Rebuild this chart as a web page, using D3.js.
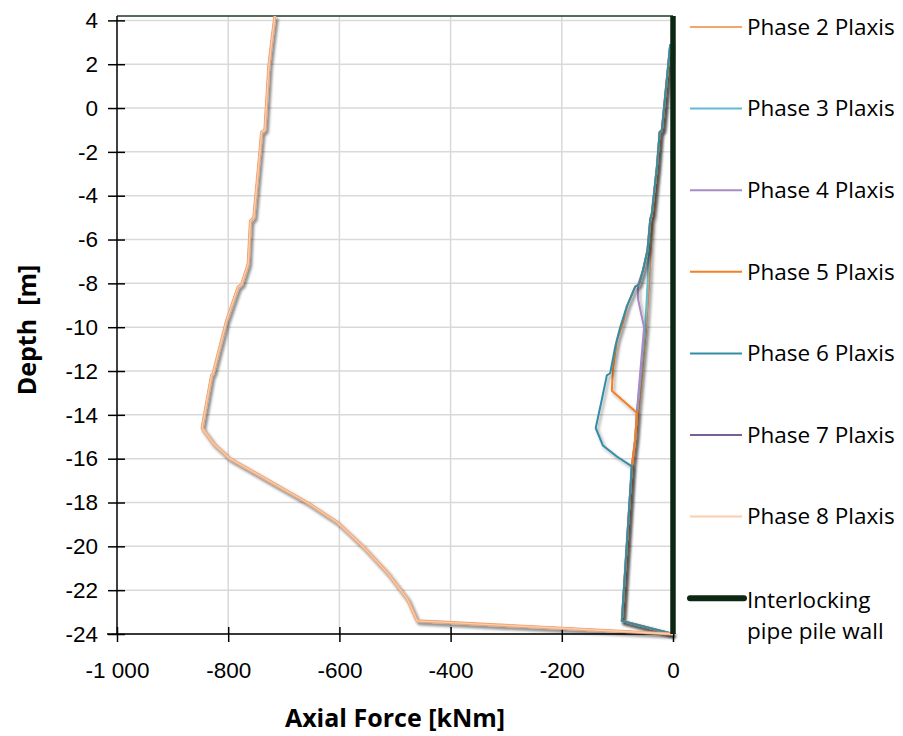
<!DOCTYPE html>
<html>
<head>
<meta charset="utf-8">
<script src="https://cdn.jsdelivr.net/npm/d3@7"></script>
<style>
  body { margin: 0; background: #fff; }
  svg { font-family: "Open Sans", sans-serif; }
  .axis text { font-size: 22.5px; fill: #000; }
  .axis path { display: none; }
  .axis line { stroke: #000; stroke-width: 1.5; }
  .axis-label { font-size: 25px; font-weight: bold; white-space: pre; }
  .legend text { font-size: 22.5px; }
</style>
</head>
<body>
<div id="chart"></div>
<script>
// depth ticks [m] and force ticks [kN]
const depthTicks = [4, 2, 0, -2, -4, -6, -8, -10, -12, -14, -16, -18, -20, -22, -24];
const forceTicks = [-1000, -800, -600, -400, -200, 0];

// Phase 2 Plaxis
const phase2Depth = [2.9, -1.0, -1.1, -5.0, -5.1, -8.1, -10.0, -13.9, -16.35, -23.4, -24.0];
const phase2Force = [-3, -18, -22, -35, -37, -43, -48, -62, -72, -90, 0];

// Phase 3 Plaxis
const phase3Depth = [2.9, -1.0, -1.1, -2.7, -4.8, -5.1, -8.15, -10.0, -13.9, -15.1, -16.35, -23.4, -24.0];
const phase3Force = [-5, -20, -24, -29, -38, -41, -46, -50, -65, -68, -74, -92, 0];

// Phase 4 Plaxis
const phase4Depth = [2.9, -1.0, -1.1, -2.7, -4.8, -5.1, -6.5, -7.4, -8.05, -8.7, -9.3, -10.0, -13.9, -15.1, -16.35, -23.4, -24.0];
const phase4Force = [-5, -20, -24, -29, -38, -41, -46, -54, -63, -63, -58, -52, -65, -68, -74, -92, 0];

// Phase 5 Plaxis
const phase5Depth = [2.9, -1.0, -1.1, -2.7, -4.8, -5.1, -6.5, -7.4, -8.05, -8.15, -9.05, -9.7, -10.6, -11.9, -12.9, -13.9, -15.1, -16.35, -23.4, -24.0];
const phase5Force = [-5, -20, -24, -29, -38, -41, -46, -54, -61, -68, -83, -89, -101, -108, -110, -65, -68, -74, -92, 0];

// Phase 6 Plaxis
const phase6Depth = [2.9, -1.0, -1.1, -2.7, -4.8, -5.1, -6.5, -7.4, -8.05, -8.15, -9.05, -10.0, -10.9, -12.1, -12.2, -13.3, -14.6, -15.4, -15.9, -16.35, -23.4, -24.0];
const phase6Force = [-5, -20, -24, -29, -38, -41, -46, -54, -61, -68, -83, -95, -104, -113, -119, -128, -139, -126, -101, -74, -92, 0];

// Phase 7 Plaxis (lies under phase 8)
const phase7Depth = [4.2, 3.0, 1.9, -1.0, -1.1, -2.0, -5.0, -5.15, -7.1, -8.05, -8.15, -9.7, -10.0, -12.1, -12.2, -14.6, -15.3, -16.0, -16.6, -17.3, -18.0, -18.9, -20.0, -21.2, -22.4, -23.2, -23.4, -24.0];
const phase7Force = [-716, -722, -727, -734, -740, -743, -754, -760, -764, -776, -782, -803, -806, -827, -830, -847, -827, -797, -755, -707, -658, -604, -558, -514, -478, -464, -460, 0];

// Phase 8 Plaxis
const phase8Depth = [4.2, 3.0, 1.9, -1.0, -1.1, -2.0, -5.0, -5.15, -7.1, -8.05, -8.15, -9.7, -10.0, -12.1, -12.2, -14.6, -15.3, -16.0, -16.6, -17.3, -18.0, -18.9, -20.0, -21.2, -22.4, -23.2, -23.4, -24.0];
const phase8Force = [-716, -722, -727, -734, -740, -743, -754, -760, -764, -776, -782, -803, -806, -827, -830, -847, -827, -797, -755, -707, -658, -604, -558, -514, -478, -464, -460, 0];

// Interlocking pipe pile wall
const wallDepth = [4.2, -24.0];
const wallForce = [0, 0];

const seriesNames = ["Phase 2 Plaxis", "Phase 3 Plaxis", "Phase 4 Plaxis", "Phase 5 Plaxis",
                     "Phase 6 Plaxis", "Phase 7 Plaxis", "Phase 8 Plaxis", "Interlocking pipe pile wall"];
const seriesColors = ["#F4A66A", "#60BCD4", "#A68BC5", "#F57F22", "#338DA6", "#7A5F97", "#F9CDAE", "#0E2713"];

let series = [
    [phase2Force, phase2Depth], [phase3Force, phase3Depth], [phase4Force, phase4Depth],
    [phase5Force, phase5Depth], [phase6Force, phase6Depth], [phase7Force, phase7Depth],
    [phase8Force, phase8Depth], [wallForce, wallDepth]
].map((s, i) => ({
    name: seriesNames[i],
    color: seriesColors[i],
    points: s[0].map((f, j) => ({force: f, depth: s[1][j]}))
}));

let width = 903, height = 736;
let svg = d3.select("#chart").append("svg")
    .attr("width", width)
    .attr("height", height);

// soft shadow like the spreadsheet lines
let defs = svg.append("defs");
defs.append("filter")
    .attr("id", "shadow")
    .attr("x", "-20%").attr("y", "-20%").attr("width", "140%").attr("height", "140%")
    .append("feDropShadow")
    .attr("dx", 2).attr("dy", 2.5)
    .attr("stdDeviation", 1.8)
    .attr("flood-color", "#000")
    .attr("flood-opacity", 0.38);

let xScale = d3.scaleLinear().domain([-1000, 0]).range([117, 673]);
let yScale = d3.scaleLinear().domain([-24, 4.2]).range([634, 16]);

let fmt = d3.formatLocale({decimal: ".", thousands: "\u00a0", grouping: [3], currency: ["", ""], minus: "-"}).format(",");

// Grid
let grid = svg.append("g").attr("class", "grid");
grid.selectAll(".hgrid")
    .data(depthTicks)
    .enter().append("line")
    .attr("x1", xScale(-1000)).attr("x2", xScale(0))
    .attr("y1", d => yScale(d)).attr("y2", d => yScale(d))
    .attr("stroke", "#D9D9D9").attr("stroke-width", 1.5);
grid.selectAll(".vgrid")
    .data(forceTicks.filter(d => d > -1000 && d < 0))
    .enter().append("line")
    .attr("x1", d => xScale(d)).attr("x2", d => xScale(d))
    .attr("y1", yScale(4.2)).attr("y2", yScale(-24))
    .attr("stroke", "#D9D9D9").attr("stroke-width", 1.5);

// top edge of plot area
svg.append("line")
    .attr("x1", xScale(-1000)).attr("x2", xScale(0))
    .attr("y1", yScale(4.2)).attr("y2", yScale(4.2))
    .attr("stroke", "#1F3A22").attr("stroke-width", 1.5);

// Axes
let yAxisGroup = svg.append("g")
    .attr("class", "axis")
    .attr("transform", "translate(" + xScale(-1000) + ",0)")
    .call(d3.axisLeft(yScale).tickValues(depthTicks).tickFormat(fmt).tickSize(9).tickPadding(10));
yAxisGroup.selectAll(".tick line").attr("x1", 8);
yAxisGroup.append("line")
    .attr("x1", 0).attr("x2", 0)
    .attr("y1", yScale(4.2)).attr("y2", yScale(-24))
    .attr("stroke", "#000").attr("stroke-width", 1.5);

let xAxisGroup = svg.append("g")
    .attr("class", "axis")
    .attr("transform", "translate(0," + yScale(-24) + ")")
    .call(d3.axisBottom(xScale).tickValues(forceTicks).tickFormat(fmt).tickSize(8).tickPadding(20));
xAxisGroup.selectAll(".tick line").attr("y1", -7);
xAxisGroup.append("line")
    .attr("x1", xScale(-1000) - 10).attr("x2", xScale(0))
    .attr("y1", 0).attr("y2", 0)
    .attr("stroke", "#000").attr("stroke-width", 1.5);

// Series
let line = d3.line()
    .x(d => xScale(d.force))
    .y(d => yScale(d.depth));

let lines = svg.append("g").attr("class", "series");
series.forEach((s, i) => {
    let isWall = i === 7;
    if (i === 6) {
        // darker rim seen around the phase 8 curve
        lines.append("path")
            .datum(s.points)
            .attr("d", line)
            .attr("fill", "none")
            .attr("stroke", "#F2A56E")
            .attr("stroke-width", 3)
            .attr("stroke-linejoin", "round")
            .attr("filter", "url(#shadow)");
    }
    lines.append("path")
        .datum(s.points)
        .attr("d", line)
        .attr("fill", "none")
        .attr("stroke", s.color)
        .attr("stroke-width", isWall ? 5.5 : (i === 6 ? 1.3 : 2))
        .attr("stroke-linejoin", "round")
        .attr("filter", isWall || i === 6 ? null : "url(#shadow)");
});

// Legend
let legend = svg.append("g").attr("class", "legend");
series.forEach((s, i) => {
    let y = 27 + i * 81.6;
    let isWall = i === 7;
    legend.append("line")
        .attr("x1", 690).attr("x2", isWall ? 744 : 742)
        .attr("y1", y).attr("y2", y)
        .attr("stroke", s.color)
        .attr("stroke-width", isWall ? 6 : 2)
        .attr("stroke-linecap", isWall ? "round" : "butt");
    if (isWall) {
        legend.append("text").attr("x", 747).attr("y", y + 2).attr("dy", "0.35em").text("Interlocking");
        legend.append("text").attr("x", 747).attr("y", y + 33).attr("dy", "0.35em").text("pipe pile wall");
    } else {
        legend.append("text").attr("x", 747).attr("y", y).attr("dy", "0.35em").text(s.name);
    }
});

// Axis labels
svg.append("text")
    .attr("class", "axis-label")
    .attr("text-anchor", "middle")
    .attr("x", 395).attr("y", 727)
    .text("Axial Force [kNm]");
svg.append("text")
    .attr("class", "axis-label")
    .attr("text-anchor", "middle")
    .attr("transform", "translate(36,330) rotate(-90)")
    .text("Depth  [m]");
</script>
</body>
</html>
